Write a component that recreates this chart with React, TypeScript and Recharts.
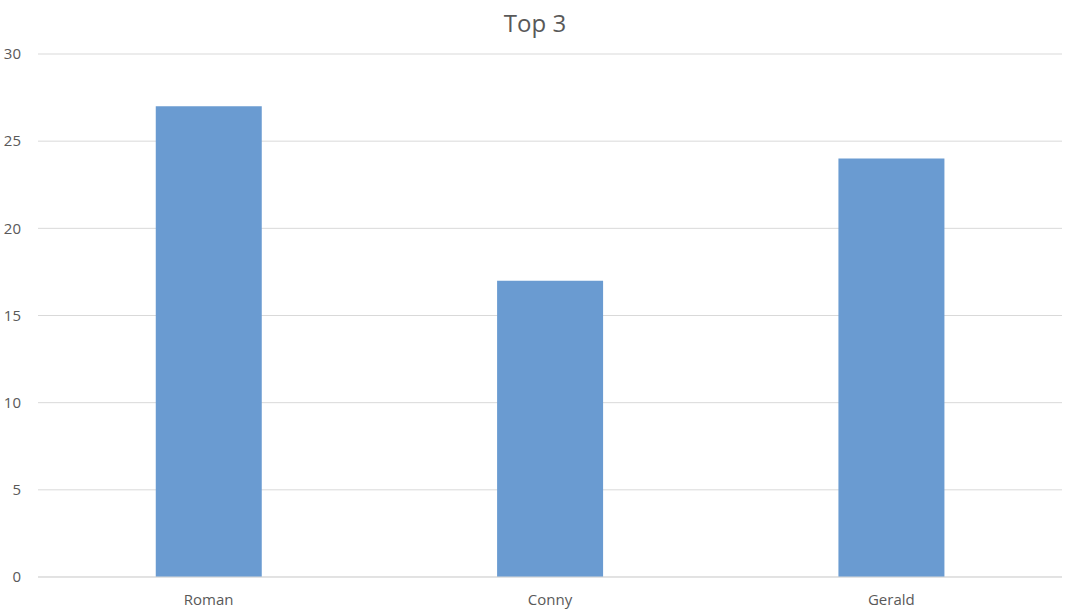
import { BarChart, Bar, XAxis, YAxis, CartesianGrid } from "recharts";

// Top 3 chart values
const names = ["Roman", "Conny", "Gerald"];
const scores = [27, 17, 24];
const yTicks = [0, 5, 10, 15, 20, 25, 30];

const BAR_COLOR = "#6a9bd1";
const GRID_COLOR = "#d9d9d9";
const TEXT_COLOR = "#595959";
const FONT = "'Open Sans', 'Liberation Sans', sans-serif";

const rows = names.map((name, i) => ({ name, score: scores[i] }));

export default function App() {
  return (
    <div style={{ position: "absolute", left: 0, top: 0, width: 1070, height: 611, background: "#fff", fontFamily: FONT }}>
      <div
        style={{
          position: "absolute",
          top: 6,
          left: 0,
          width: 1070,
          textAlign: "center",
          fontSize: 24,
          color: TEXT_COLOR,
        }}
      >
        Top 3
      </div>
      <BarChart
        width={1070}
        height={611}
        data={rows}
        margin={{ top: 54, right: 8, left: 0, bottom: 0 }}
        barCategoryGap="34.5%"
      >
        <CartesianGrid vertical={false} stroke={GRID_COLOR} />
        <XAxis
          dataKey="name"
          height={34}
          tickLine={false}
          tickSize={0}
          tickMargin={17}
          axisLine={{ stroke: GRID_COLOR }}
          tick={{ fill: TEXT_COLOR, fontSize: 15, fontFamily: FONT }}
        />
        <YAxis
          width={38}
          domain={[0, 30]}
          ticks={yTicks}
          axisLine={false}
          tickLine={false}
          tickSize={0}
          tickMargin={17}
          tick={{ fill: TEXT_COLOR, fontSize: 15, fontFamily: FONT }}
        />
        <Bar dataKey="score" fill={BAR_COLOR} isAnimationActive={false} />
      </BarChart>
    </div>
  );
}
